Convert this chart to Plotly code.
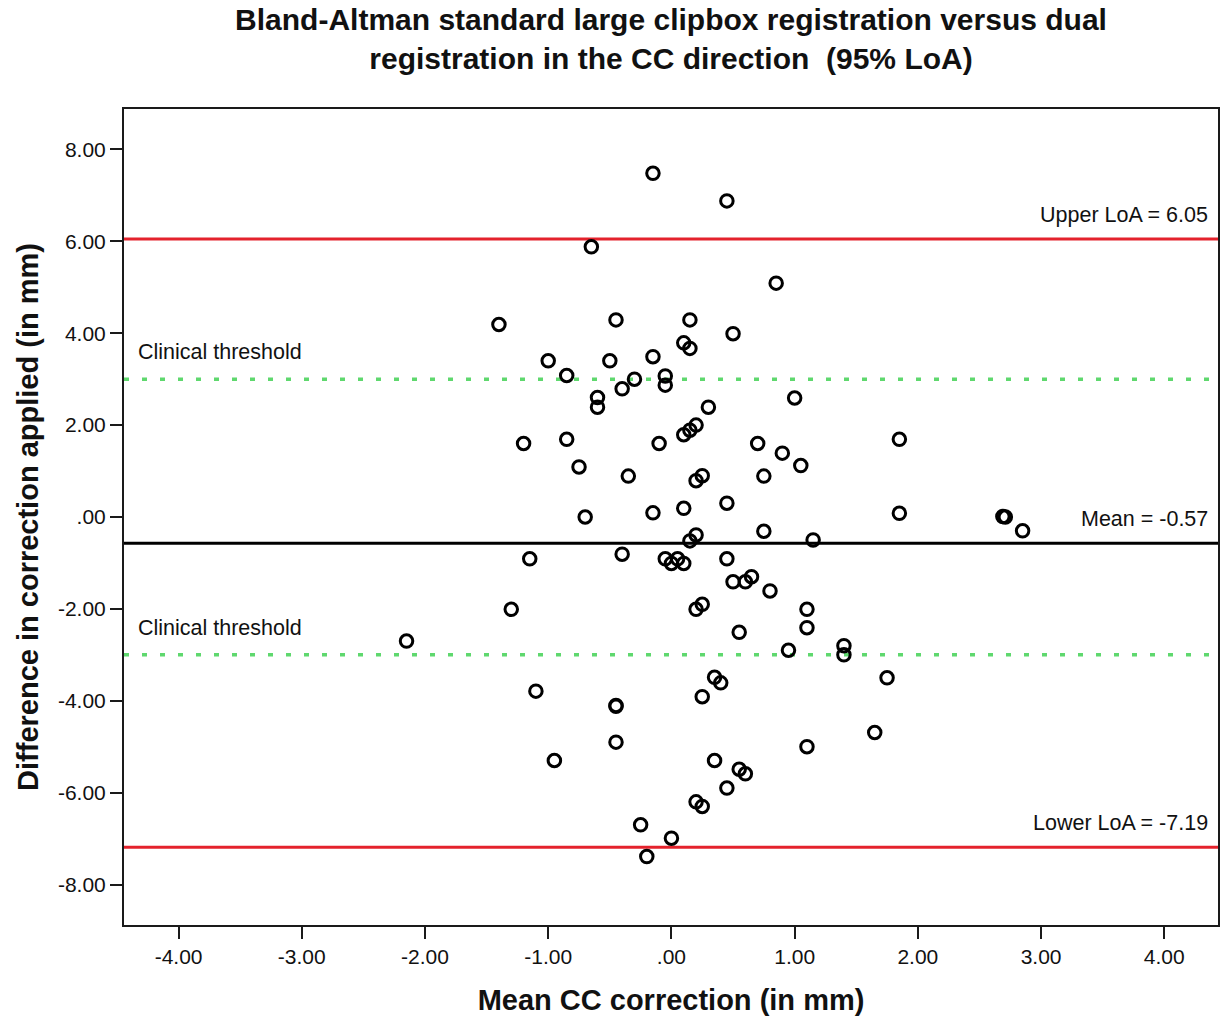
import plotly.graph_objects as go

# ---- data ----
mean_cc = [
    -0.15, 0.45, -0.65, 0.85, -1.40, -0.45, 0.15, 0.50, 0.10, 0.15,
    -1.00, -0.50, -0.15, -0.85, -0.30, -0.05, -0.05, -0.40, -0.60, -0.60,
    0.30, 1.00, 0.20, 0.15, 0.10, -1.20, -0.85, -0.10, 0.70, 0.90,
    1.05, 1.85, -0.75, -0.35, 0.25, 0.20, 0.75, -0.70, -0.15, 0.10,
    0.45, 1.85, 2.69, 2.71, 2.85, 0.20, 0.15, 0.75, 1.15, -1.15,
    -0.40, -0.05, 0.00, 0.05, 0.10, 0.45, 0.50, 0.60, 0.65, 0.80,
    -1.30, 0.20, 0.25, 1.10, 1.10, 0.55, -2.15, 0.95, 1.40, 1.40,
    1.75, -1.10, -0.45, -0.45, 0.35, 0.40, 0.25, 1.65, -0.45, -0.95,
    0.35, 0.55, 0.60, 1.10, 0.45, 0.20, 0.25, -0.25, 0.00, -0.20,
]
difference = [
    7.48, 6.88, 5.88, 5.09, 4.19, 4.29, 4.29, 3.99, 3.79, 3.67,
    3.40, 3.40, 3.49, 3.08, 3.00, 3.07, 2.87, 2.79, 2.60, 2.39,
    2.39, 2.59, 2.00, 1.89, 1.79, 1.60, 1.69, 1.60, 1.60, 1.39,
    1.12, 1.69, 1.09, 0.89, 0.90, 0.79, 0.89, 0.00, 0.09, 0.19,
    0.30, 0.08, 0.01, 0.00, -0.30, -0.39, -0.52, -0.31, -0.50, -0.91,
    -0.81, -0.91, -1.01, -0.91, -1.01, -0.91, -1.41, -1.41, -1.30, -1.61,
    -2.01, -2.01, -1.90, -2.01, -2.41, -2.51, -2.70, -2.90, -2.80, -3.00,
    -3.50, -3.79, -4.10, -4.12, -3.49, -3.61, -3.91, -4.69, -4.90, -5.30,
    -5.30, -5.49, -5.59, -5.00, -5.90, -6.20, -6.30, -6.70, -6.99, -7.39,
]

mean_difference = -0.57
upper_loa = 6.05
lower_loa = -7.19
clinical_thresholds = [3.0, -3.0]

x_tick_vals = [-4, -3, -2, -1, 0, 1, 2, 3, 4]
x_tick_text = ["-4.00", "-3.00", "-2.00", "-1.00", ".00", "1.00", "2.00", "3.00", "4.00"]
y_tick_vals = [-8, -6, -4, -2, 0, 2, 4, 6, 8]
y_tick_text = ["-8.00", "-6.00", "-4.00", "-2.00", ".00", "2.00", "4.00", "6.00", "8.00"]

title_text = ("Bland-Altman standard large clipbox registration versus dual<br>"
              "registration in the CC direction\u00a0 (95% LoA)")
x_title = "Mean CC correction (in mm)"
y_title = "Difference in correction applied (in mm)"

FONT = "Arial, Liberation Sans, Helvetica, sans-serif"

fig = go.Figure()
fig.add_trace(go.Scatter(
    x=mean_cc, y=difference, mode="markers",
    marker=dict(symbol="circle-open", size=12.5, color="black",
                line=dict(color="black", width=3)),
    showlegend=False, hoverinfo="x+y",
))

# reference lines
red = "#e4222c"
green = "#5fd86e"
for val in (upper_loa, lower_loa):
    fig.add_shape(type="line", xref="paper", x0=0, x1=1, yref="y", y0=val, y1=val,
                  line=dict(color=red, width=3), layer="below")
fig.add_shape(type="line", xref="paper", x0=0, x1=1, yref="y",
              y0=mean_difference, y1=mean_difference,
              line=dict(color="black", width=3), layer="below")
for val in clinical_thresholds:
    fig.add_shape(type="line", xref="paper", x0=0, x1=1, yref="y", y0=val, y1=val,
                  line=dict(color=green, width=3.5, dash="5px,13px"), layer="below")

ann_font = dict(family=FONT, size=21.5, color="#111111")
labels = [
    (f"Upper LoA = {upper_loa:.2f}", upper_loa),
    (f"Mean = {mean_difference:.2f}", mean_difference),
    (f"Lower LoA = {lower_loa:.2f}", lower_loa),
]
for txt, val in labels:
    fig.add_annotation(text=txt, xref="paper", x=0.9931, xanchor="right",
                       yref="y", y=val, yanchor="middle", yshift=24,
                       showarrow=False, font=ann_font)
for val in clinical_thresholds:
    fig.add_annotation(text="Clinical threshold", xref="paper", x=0.0108, xanchor="left",
                       yref="y", y=val, yanchor="middle", yshift=27,
                       showarrow=False, font=ann_font)

axis_common = dict(
    showline=True, linecolor="#1a1a1a", linewidth=2, mirror=True,
    ticks="outside", ticklen=12, tickwidth=2, tickcolor="#1a1a1a",
    showgrid=False, zeroline=False,
    tickfont=dict(family=FONT, size=21, color="#111111"),
)

fig.update_xaxes(
    range=[-4.443, 4.436], tickmode="array", tickvals=x_tick_vals, ticktext=x_tick_text,
    title=dict(text=x_title, font=dict(family=FONT, size=29, color="#111111", weight="bold"),
               standoff=22),
    **axis_common,
)
fig.update_yaxes(
    range=[-8.88, 8.88], tickmode="array", tickvals=y_tick_vals, ticktext=y_tick_text,
    title=dict(text=y_title, font=dict(family=FONT, size=29, color="#111111", weight="bold"),
               standoff=11),
    **axis_common,
)

fig.update_layout(
    width=1221, height=1020,
    margin=dict(l=124, r=1, t=109, b=95),
    paper_bgcolor="white", plot_bgcolor="white",
    title=dict(text=title_text, x=0.5, xref="paper", xanchor="center",
               yref="container", y=1 - 30 / 1020, yanchor="middle",
               font=dict(family=FONT, size=30, color="#111111", weight="bold")),
    showlegend=False,
)

fig.write_html(
    "out.html",
    config={"displayModeBar": False},
    post_script="document.body.style.margin='0';document.body.style.overflow='hidden';",
)
